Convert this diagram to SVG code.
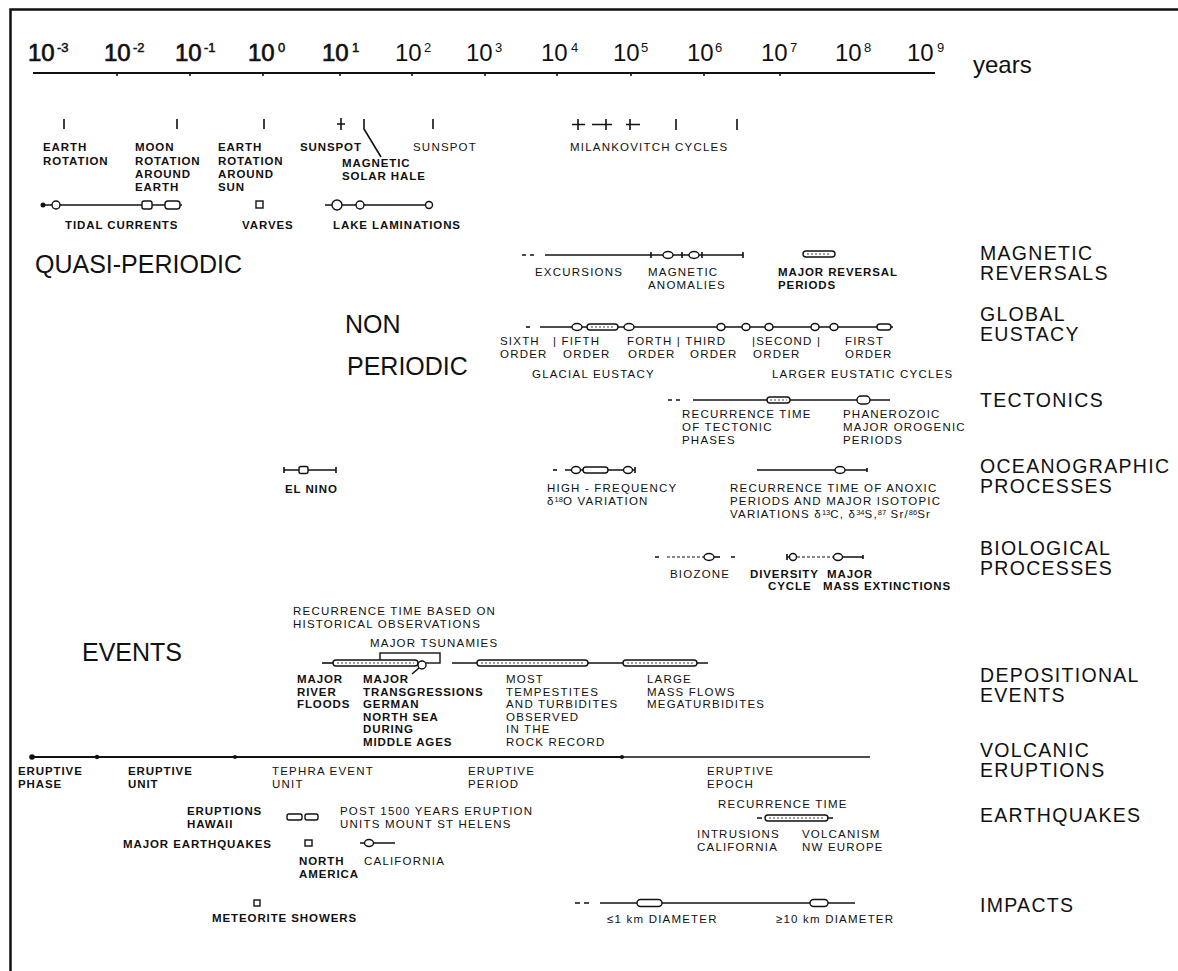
<svg xmlns="http://www.w3.org/2000/svg" width="1178" height="971" viewBox="0 0 1178 971">
<style>
text{font-family:"Liberation Sans",Arial,sans-serif;fill:#111}
.ax{font-size:24px}
.axb{font-size:24px;stroke:#111;stroke-width:0.7}
.sup{font-size:13px}
.supb{font-size:13px;stroke:#111;stroke-width:0.5}
.yr{font-size:24px}
.big{font-size:25px}
.cat{font-size:19.5px;letter-spacing:1.3px}
.t{font-size:11.5px;letter-spacing:1.2px}
.tb{font-size:11.5px;font-weight:bold;letter-spacing:0.9px}
.ss{font-size:7.5px;letter-spacing:0}
.ln{stroke:#111;stroke-width:1.6;fill:none}
.thk{stroke:#111;stroke-width:2.2;fill:none}
.dsh{stroke:#111;stroke-width:1.2;fill:none;stroke-dasharray:3 2}
.mk{fill:#fff;stroke:#111;stroke-width:1.4}
.dot{fill:#111}
.in{stroke:#111;stroke-width:0.8;stroke-dasharray:2 2;fill:none}
</style>
<rect width="1178" height="971" fill="#fff"/>
<path d="M10.5,971 V9.5 H1178" fill="none" stroke="#111" stroke-width="2.5"/>

<g id="axis">
<line x1="33" y1="73" x2="935" y2="73" stroke="#111" stroke-width="2"/>
<path class="ln" d="M117,73v3 M190,73v3 M263,73v3 M340,73v3 M412,73v3 M485,73v3 M557,73v3 M631,73v3 M704,73v3 M780,73v3"/>
<text class="axb" x="28" y="61">10</text><text class="supb" x="57" y="52">-3</text>
<text class="axb" x="104" y="61">10</text><text class="supb" x="133" y="52">-2</text>
<text class="axb" x="175" y="61">10</text><text class="supb" x="204" y="52">-1</text>
<text class="axb" x="248" y="61">10</text><text class="supb" x="278" y="52">0</text>
<text class="axb" x="322" y="61">10</text><text class="supb" x="352" y="52">1</text>
<text class="ax" x="395" y="61">10</text><text class="sup" x="424" y="52">2</text>
<text class="ax" x="466" y="61">10</text><text class="sup" x="495" y="52">3</text>
<text class="ax" x="541" y="61">10</text><text class="sup" x="571" y="52">4</text>
<text class="ax" x="613" y="61">10</text><text class="sup" x="641" y="52">5</text>
<text class="ax" x="687" y="61">10</text><text class="sup" x="715" y="52">6</text>
<text class="ax" x="761" y="61">10</text><text class="sup" x="790" y="52">7</text>
<text class="ax" x="835" y="61">10</text><text class="sup" x="864" y="52">8</text>
<text class="ax" x="907" y="61">10</text><text class="sup" x="937" y="52">9</text>
<text class="yr" x="973" y="73">years</text>
</g>

<g id="category-labels">
<text class="big" x="35" y="273">QUASI-PERIODIC</text>
<text class="big" x="345" y="333">NON</text>
<text class="big" x="347" y="375">PERIODIC</text>
<text class="big" x="82" y="661">EVENTS</text>
<text class="cat" x="980" y="260">MAGNETIC<tspan x="980" y="280">REVERSALS</tspan></text>
<text class="cat" x="980" y="321">GLOBAL<tspan x="980" y="341">EUSTACY</tspan></text>
<text class="cat" x="980" y="407">TECTONICS</text>
<text class="cat" x="980" y="473">OCEANOGRAPHIC<tspan x="980" y="493">PROCESSES</tspan></text>
<text class="cat" x="980" y="555">BIOLOGICAL<tspan x="980" y="575">PROCESSES</tspan></text>
<text class="cat" x="980" y="682">DEPOSITIONAL<tspan x="980" y="702">EVENTS</tspan></text>
<text class="cat" x="980" y="757">VOLCANIC<tspan x="980" y="777">ERUPTIONS</tspan></text>
<text class="cat" x="980" y="822">EARTHQUAKES</text>
<text class="cat" x="980" y="912">IMPACTS</text>
</g>

<g id="periodic">
<path class="ln" d="M64,119V129 M177,119V129 M264,119V129 M341,118V130 M337,124H345 M433,119V129"/>
<path class="ln" stroke-width="1.3" d="M364,119 V129 L381,157"/>
<path class="ln" d="M572,124.5H585 M578,119V130 M592,124.5H612 M606,119V130 M626,124.5H640 M630,119V130 M676,119V130 M737,119V130"/>
<text class="tb" x="43" y="151">EARTH<tspan x="43" y="165">ROTATION</tspan></text>
<text class="tb" x="135" y="151">MOON<tspan x="135" y="165">ROTATION</tspan><tspan x="135" y="178">AROUND</tspan><tspan x="135" y="191">EARTH</tspan></text>
<text class="tb" x="218" y="151">EARTH<tspan x="218" y="165">ROTATION</tspan><tspan x="218" y="178">AROUND</tspan><tspan x="218" y="191">SUN</tspan></text>
<text class="tb" x="300" y="151">SUNSPOT</text>
<text class="tb" x="342" y="167">MAGNETIC<tspan x="342" y="180">SOLAR HALE</tspan></text>
<text class="t" x="413" y="151">SUNSPOT</text>
<text class="t" x="570" y="151">MILANKOVITCH CYCLES</text>
</g>

<g id="laminations">
<line class="ln" x1="43" y1="205" x2="182" y2="205"/>
<circle class="dot" cx="43" cy="205" r="2.5"/>
<circle class="mk" cx="56" cy="205" r="4"/>
<rect class="mk" x="142" y="201" width="10" height="8" rx="2"/>
<rect class="mk" x="165" y="201" width="15" height="8" rx="3"/>
<rect class="mk" x="256" y="201" width="7" height="7" stroke-width="1.8"/>
<line class="ln" x1="325" y1="205" x2="433" y2="205"/>
<circle class="mk" cx="337" cy="205" r="5"/>
<circle class="mk" cx="360" cy="205" r="4"/>
<circle class="mk" cx="429" cy="205" r="3.5"/>
<text class="tb" x="65" y="229">TIDAL CURRENTS</text>
<text class="tb" x="242" y="229">VARVES</text>
<text class="tb" x="333" y="229">LAKE LAMINATIONS</text>
</g>

<g id="magnetic-reversals">
<path class="ln" stroke-width="1.2" d="M522,255H526 M530,255H534"/>
<line class="ln" x1="545" y1="255" x2="743" y2="255"/>
<path class="ln" d="M651,252V258 M682,252V258 M702,252V258 M743,252V258"/>
<ellipse class="mk" cx="668" cy="255" rx="5" ry="3.5"/>
<ellipse class="mk" cx="694" cy="255" rx="5" ry="3.5"/>
<rect class="mk" x="803" y="251" width="32" height="6" rx="3"/>
<line class="in" x1="807" y1="254" x2="831" y2="254"/>
<text class="t" x="535" y="276">EXCURSIONS</text>
<text class="t" x="648" y="276">MAGNETIC<tspan x="648" y="289">ANOMALIES</tspan></text>
<text class="tb" x="778" y="276">MAJOR REVERSAL<tspan x="778" y="289">PERIODS</tspan></text>
</g>

<g id="global-eustacy">
<path class="ln" stroke-width="1.2" d="M526,327H530"/>
<line class="ln" x1="540" y1="327" x2="893" y2="327"/>
<ellipse class="mk" cx="577" cy="327" rx="5" ry="3.5"/>
<rect class="mk" x="587" y="324" width="31" height="6" rx="3"/>
<line class="in" x1="591" y1="327" x2="614" y2="327"/>
<ellipse class="mk" cx="629" cy="327" rx="5" ry="3.5"/>
<ellipse class="mk" cx="721" cy="327" rx="4" ry="3.5"/>
<ellipse class="mk" cx="746" cy="327" rx="4" ry="3.5"/>
<ellipse class="mk" cx="769" cy="327" rx="4" ry="3.5"/>
<ellipse class="mk" cx="815" cy="327" rx="4" ry="3.5"/>
<ellipse class="mk" cx="834" cy="327" rx="4" ry="3.5"/>
<rect class="mk" x="877" y="324" width="14" height="6" rx="3"/>
<text class="t" x="500" y="345">SIXTH<tspan x="500" y="358">ORDER</tspan></text>
<text class="t" x="553" y="345">| FIFTH<tspan x="563" y="358">ORDER</tspan></text>
<text class="t" x="627" y="345">FORTH | THIRD<tspan x="628" y="358">ORDER</tspan><tspan x="690" y="358">ORDER</tspan></text>
<text class="t" x="752" y="345">|SECOND |<tspan x="753" y="358">ORDER</tspan></text>
<text class="t" x="845" y="345">FIRST<tspan x="845" y="358">ORDER</tspan></text>
<text class="t" x="532" y="378">GLACIAL EUSTACY</text>
<text class="t" x="772" y="378">LARGER EUSTATIC CYCLES</text>
</g>

<g id="tectonics">
<path class="ln" stroke-width="1.2" d="M668,400H672 M676,400H680"/>
<line class="ln" x1="693" y1="400" x2="890" y2="400"/>
<rect class="mk" x="767" y="397" width="23" height="6" rx="3"/>
<line class="in" x1="770" y1="400" x2="787" y2="400"/>
<rect class="mk" x="857" y="396" width="13" height="8" rx="4"/>
<text class="t" x="682" y="418">RECURRENCE TIME<tspan x="682" y="431">OF TECTONIC</tspan><tspan x="682" y="444">PHASES</tspan></text>
<text class="t" x="843" y="418">PHANEROZOIC<tspan x="843" y="431">MAJOR OROGENIC</tspan><tspan x="843" y="444">PERIODS</tspan></text>
</g>

<g id="oceanographic">
<line class="ln" x1="284" y1="470" x2="336" y2="470"/>
<path class="ln" d="M284,467V473 M336,467V473"/>
<rect class="mk" x="299" y="466.5" width="9" height="7" rx="2"/>
<path class="ln" stroke-width="1.2" d="M553,470H557"/>
<line class="ln" x1="565" y1="470" x2="635" y2="470"/>
<ellipse class="mk" cx="576" cy="470" rx="4.5" ry="3.5"/>
<rect class="mk" x="583" y="467" width="25" height="6" rx="3"/>
<ellipse class="mk" cx="628" cy="470" rx="4.5" ry="3.5"/>
<path class="ln" d="M635,467V473"/>
<line class="ln" x1="757" y1="470" x2="867" y2="470"/>
<path class="ln" d="M867,468V472"/>
<ellipse class="mk" cx="840" cy="470" rx="5" ry="3.5"/>
<text class="tb" x="285" y="493">EL NINO</text>
<text class="t" x="547" y="492">HIGH - FREQUENCY<tspan x="547" y="505">δ</tspan><tspan class="ss" dy="-3.5">18</tspan><tspan dy="3.5">O VARIATION</tspan></text>
<text class="t" x="730" y="492">RECURRENCE TIME OF ANOXIC<tspan x="730" y="505">PERIODS AND MAJOR ISOTOPIC</tspan><tspan x="730" y="518">VARIATIONS δ</tspan><tspan class="ss" dy="-3.5">13</tspan><tspan dy="3.5">C, δ</tspan><tspan class="ss" dy="-3.5">34</tspan><tspan dy="3.5">S,</tspan><tspan class="ss" dy="-3.5">87</tspan><tspan dy="3.5"> Sr/</tspan><tspan class="ss" dy="-3.5">86</tspan><tspan dy="3.5">Sr</tspan></text>
</g>

<g id="biological">
<path class="ln" stroke-width="1.2" d="M655,557H659 M731,557H735"/>
<line class="dsh" x1="667" y1="557" x2="704" y2="557"/>
<line class="ln" x1="714" y1="557" x2="720" y2="557"/>
<ellipse class="mk" cx="709" cy="557" rx="5" ry="3.5"/>
<path class="ln" d="M787,557H790 M787,554V560 M843,557H863 M863,555V559"/>
<line class="dsh" x1="797" y1="557" x2="834" y2="557"/>
<ellipse class="mk" cx="793" cy="557" rx="3.5" ry="3.5"/>
<ellipse class="mk" cx="838" cy="557" rx="4.5" ry="3.5"/>
<text class="t" x="670" y="578">BIOZONE</text>
<text class="tb" x="750" y="578">DIVERSITY<tspan x="768" y="590">CYCLE</tspan></text>
<text class="tb" x="827" y="578">MAJOR<tspan x="823" y="590">MASS EXTINCTIONS</tspan></text>
</g>

<g id="depositional">
<text class="t" x="293" y="615">RECURRENCE TIME BASED ON<tspan x="293" y="628">HISTORICAL OBSERVATIONS</tspan></text>
<text class="t" x="370" y="647">MAJOR TSUNAMIES</text>
<line class="ln" x1="322" y1="663" x2="333" y2="663"/>
<rect class="mk" x="380" y="653" width="60" height="10"/>
<rect class="mk" x="333" y="660" width="85" height="6" rx="3"/>
<line class="in" x1="337" y1="663" x2="414" y2="663"/>
<circle class="mk" cx="422" cy="665" r="4"/>
<path class="ln" stroke-width="1.2" d="M419,668 L412,674"/>
<line class="ln" x1="452" y1="663" x2="708" y2="663"/>
<rect class="mk" x="477" y="660" width="111" height="6" rx="3"/>
<line class="in" x1="481" y1="663" x2="584" y2="663"/>
<rect class="mk" x="623" y="660" width="74" height="6" rx="3"/>
<line class="in" x1="627" y1="663" x2="693" y2="663"/>
<text class="tb" x="297" y="683">MAJOR<tspan x="297" y="695.5">RIVER</tspan><tspan x="297" y="708">FLOODS</tspan></text>
<text class="tb" x="363" y="683">MAJOR<tspan x="363" y="695.5">TRANSGRESSIONS</tspan><tspan x="363" y="708">GERMAN</tspan><tspan x="363" y="720.5">NORTH SEA</tspan><tspan x="363" y="733">DURING</tspan><tspan x="363" y="745.5">MIDDLE AGES</tspan></text>
<text class="t" x="506" y="683">MOST<tspan x="506" y="695.5">TEMPESTITES</tspan><tspan x="506" y="708">AND TURBIDITES</tspan><tspan x="506" y="720.5">OBSERVED</tspan><tspan x="506" y="733">IN THE</tspan><tspan x="506" y="745.5">ROCK RECORD</tspan></text>
<text class="t" x="647" y="683">LARGE<tspan x="647" y="695.5">MASS FLOWS</tspan><tspan x="647" y="708">MEGATURBIDITES</tspan></text>
</g>

<g id="volcanic">
<line class="thk" x1="32" y1="757" x2="622" y2="757"/>
<line class="ln" x1="622" y1="757" x2="870" y2="757"/>
<circle class="dot" cx="32" cy="757" r="2.8"/>
<circle class="dot" cx="97" cy="757" r="2.2"/>
<circle class="dot" cx="235" cy="757" r="2"/>
<circle class="dot" cx="622" cy="757" r="2"/>
<text class="tb" x="18" y="775">ERUPTIVE<tspan x="18" y="787.5">PHASE</tspan></text>
<text class="tb" x="128" y="775">ERUPTIVE<tspan x="128" y="787.5">UNIT</tspan></text>
<text class="t" x="272" y="775">TEPHRA EVENT<tspan x="272" y="787.5">UNIT</tspan></text>
<text class="t" x="468" y="775">ERUPTIVE<tspan x="468" y="787.5">PERIOD</tspan></text>
<text class="t" x="707" y="775">ERUPTIVE<tspan x="707" y="787.5">EPOCH</tspan></text>
</g>

<g id="earthquakes">
<text class="tb" x="187" y="815">ERUPTIONS<tspan x="187" y="828">HAWAII</tspan></text>
<rect class="mk" x="287" y="814" width="15" height="6" rx="2"/>
<rect class="mk" x="305" y="814" width="13" height="6" rx="2"/>
<text class="t" x="340" y="815">POST 1500 YEARS ERUPTION<tspan x="340" y="828">UNITS MOUNT ST HELENS</tspan></text>
<text class="tb" x="123" y="848">MAJOR EARTHQUAKES</text>
<rect class="mk" x="305" y="840" width="7" height="6" stroke-width="1.8"/>
<text class="tb" x="299" y="865">NORTH<tspan x="299" y="877.5">AMERICA</tspan></text>
<line class="ln" x1="360" y1="843" x2="395" y2="843"/>
<ellipse class="mk" cx="369" cy="843" rx="4.5" ry="3.5"/>
<text class="t" x="364" y="865">CALIFORNIA</text>
<text class="t" x="718" y="808">RECURRENCE TIME</text>
<path class="ln" stroke-width="1.2" d="M757,818H762 M828,818H833"/>
<rect class="mk" x="765" y="815" width="63" height="6" rx="3"/>
<line class="in" x1="769" y1="818" x2="824" y2="818"/>
<text class="t" x="697" y="838">INTRUSIONS<tspan x="697" y="851">CALIFORNIA</tspan></text>
<text class="t" x="802" y="838">VOLCANISM<tspan x="802" y="851">NW EUROPE</tspan></text>
</g>

<g id="impacts">
<rect class="mk" x="254" y="900" width="6" height="6" stroke-width="1.8"/>
<text class="tb" x="212" y="922">METEORITE SHOWERS</text>
<path class="ln" stroke-width="1.2" d="M575,903H580 M584,903H589"/>
<line class="ln" x1="600" y1="903" x2="855" y2="903"/>
<rect class="mk" x="637" y="899.5" width="25" height="7" rx="3.5"/>
<rect class="mk" x="810" y="899.5" width="18" height="7" rx="3.5"/>
<text class="t" x="607" y="923">≤1 km DIAMETER</text>
<text class="t" x="776" y="923">≥10 km DIAMETER</text>
</g>
</svg>
